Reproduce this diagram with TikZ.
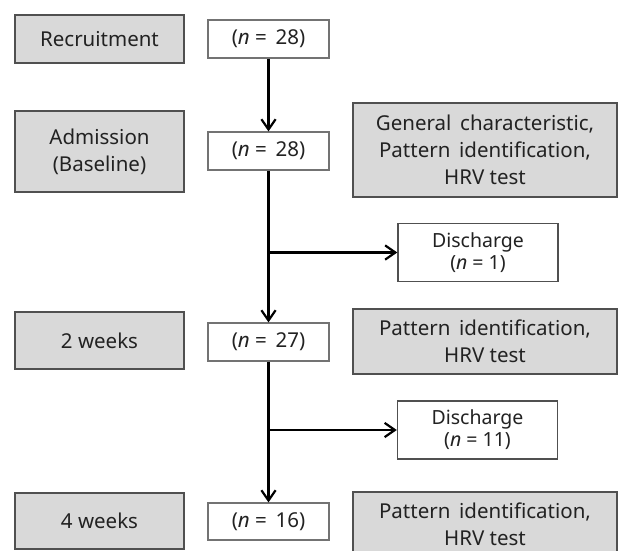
\documentclass[tikz,border=0pt]{standalone}
\usepackage{fontspec}
\setmainfont{Noto Sans}
\usepackage{xcolor}
\usepackage{tikz}
\usetikzlibrary{arrows.meta,positioning,calc}

\definecolor{boxgray}{HTML}{D9D9D9}
\definecolor{linegray}{HTML}{505050}
\definecolor{textgray}{HTML}{222222}

\begin{document}
\begin{tikzpicture}[x=1pt, y=-1pt,
    stage/.style={rectangle, draw=linegray, fill=boxgray, line width=1.6pt, minimum width=169pt, align=center, text=textgray, font=\fontsize{20.5}{27}\selectfont, inner sep=0pt},
    count/.style={rectangle, draw=linegray!80, fill=white, line width=1.2pt, minimum width=121pt, minimum height=38pt, align=center, text=textgray, font=\fontsize{20.5}{27}\selectfont, inner sep=0pt},
    measure/.style={rectangle, draw=linegray, fill=boxgray, line width=1.6pt, minimum width=264pt, align=center, text=textgray, font=\fontsize{20.5}{27}\selectfont, inner sep=0pt},
    dropout/.style={rectangle, draw=linegray, fill=white, line width=1.4pt, minimum width=160pt, minimum height=58pt, align=center, text=textgray, font=\fontsize{19.5}{22}\selectfont, inner sep=0pt},
    arrow/.style={-{Straight Barb[length=3.6mm, width=5mm, line width=2.2pt]}, line width=2.6pt, black}
]
\useasboundingbox (0,0) rectangle (618,551);
\clip (0,0) rectangle (618,551);

% Time points on the left
\node[stage, minimum height=48pt] (recruit) at (99.5,39) {Recruitment};
\node[stage, minimum height=81pt] (admit) at (99.5,151.5) {Admission\\(Baseline)};
\node[stage, minimum height=57pt] (week2) at (99.5,340.5) {2 weeks};
\node[stage, minimum height=56pt] (week4) at (99.5,521) {4 weeks};

% Participant counts
\node[count] (n1) at (268.5,39) {(\textit{n} =\, 28)};
\node[count] (n2) at (268.5,151) {(\textit{n} =\, 28)};
\node[count] (n3) at (268.5,342) {(\textit{n} =\, 27)};
\node[count, minimum height=37pt] (n4) at (268.5,521.5) {(\textit{n} =\, 16)};

% Measurements on the right
\node[measure, minimum height=94pt] (gen) at (485,150) {General\, characteristic,\\Pattern\, identification,\\HRV test};
\node[measure, minimum height=65pt] (pat2) at (485,341.5) {Pattern\, identification,\\HRV test};
\node[measure, minimum height=65pt] (pat3) at (485,524.5) {Pattern\, identification,\\HRV test};

% Drop-outs
\node[dropout] (dis1) at (478,252.5) {Discharge\\(\textit{n} = 1)};
\node[dropout] (dis2) at (477.5,430) {Discharge\\(\textit{n} = 11)};

% Flow arrows
\draw[arrow] (n1) -- (n2);
\draw[arrow] (n2) -- (n3);
\draw[arrow] (n3) -- (n4);
\draw[arrow] (n2.south |- dis1.west) -- (dis1.west);
\draw[arrow] (n3.south |- dis2.west) -- (dis2.west);
\end{tikzpicture}
\end{document}
